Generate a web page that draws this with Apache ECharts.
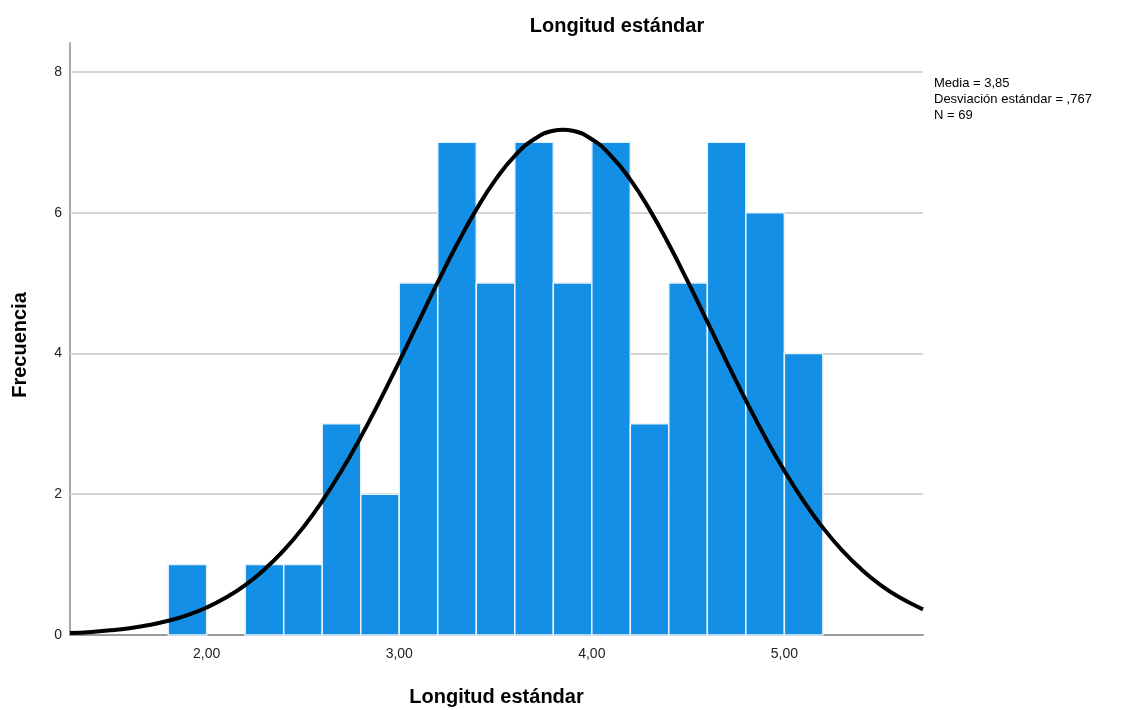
<!DOCTYPE html>
<html><head><meta charset="utf-8">
<script src="https://cdn.jsdelivr.net/npm/echarts@6/dist/echarts.min.js"></script>
<style>html,body{margin:0;padding:0;background:#fff}#c{width:1132px;height:710px}</style>
</head><body><div id="c"></div>
<script>
const binStart = [1.8, 2.0, 2.2, 2.4, 2.6, 2.8, 3.0, 3.2, 3.4, 3.6, 3.8, 4.0, 4.2, 4.4, 4.6, 4.8, 5.0];
const binEnd   = [2.0, 2.2, 2.4, 2.6, 2.8, 3.0, 3.2, 3.4, 3.6, 3.8, 4.0, 4.2, 4.4, 4.6, 4.8, 5.0, 5.2];
const counts   = [1, 0, 1, 1, 3, 2, 5, 7, 5, 7, 5, 7, 3, 5, 7, 6, 4];
const curveX = [1.29,1.4,1.5,1.6,1.7,1.8,1.9,2.0,2.1,2.2,2.3,2.4,2.5,2.6,2.7,2.8,2.9,3.0,3.1,3.2,3.3,3.4,3.5,3.6,3.7,3.8,3.85,3.9,4.0,4.1,4.2,4.3,4.4,4.5,4.6,4.7,4.8,4.9,5.0,5.1,5.2,5.3,5.4,5.5,5.6,5.7,5.72];
const curveY = [0.027,0.044,0.066,0.097,0.141,0.202,0.283,0.391,0.532,0.710,0.932,1.202,1.525,1.902,2.333,2.812,3.334,3.884,4.450,5.012,5.551,6.043,6.468,6.807,7.042,7.163,7.178,7.163,7.042,6.807,6.468,6.043,5.551,5.012,4.450,3.884,3.334,2.812,2.333,1.902,1.525,1.202,0.932,0.710,0.532,0.391,0.365];
const xTicks = [2, 3, 4, 5];
const yTicks = [0, 2, 4, 6, 8];
const titleText = 'Longitud estándar';
const xName = 'Longitud estándar';
const yName = 'Frecuencia';
const statsLines = ['Media = 3,85', 'Desviación estándar = ,767', 'N = 69'];

const bars = binStart.map((s, i) => [s, binEnd[i], counts[i]]).filter(d => d[2] > 0);
const curve = curveX.map((x, i) => [x, curveY[i]]);
const fmt = v => v.toFixed(2).replace('.', ',');
const FONT = 'Liberation Sans, Arial, sans-serif';

const chart = echarts.init(document.getElementById('c'), null, {renderer: 'canvas'});
chart.setOption({
  animation: false,
  backgroundColor: '#ffffff',
  title: {
    text: titleText, left: 612, top: 11, textAlign: 'center',
    textStyle: {fontFamily: FONT, fontSize: 20, fontWeight: 'bold', color: '#000'}
  },
  graphic: [{
    type: 'text', left: 934, top: 75,
    style: {text: statsLines.join('\n'), font: '13px "Liberation Sans", Arial, sans-serif', fill: '#000', lineHeight: 16}
  }, {
    type: 'text', x: 20, y: 345, rotation: Math.PI / 2,
    style: {text: yName, font: 'bold 20px "Liberation Sans", Arial, sans-serif', fill: '#000', align: 'center', verticalAlign: 'middle'}
  }],
  grid: {left: 70, right: 209, top: 43, bottom: 75, containLabel: false, outerBoundsMode: 'none'},
  xAxis: {
    type: 'value', min: 1.29, max: 5.72,
    name: xName, nameLocation: 'middle', nameGap: 52,
    nameTextStyle: {fontFamily: FONT, fontSize: 20, fontWeight: 'bold', color: '#000'},
    axisLine: {show: true, lineStyle: {color: '#9a9a9a', width: 2}},
    axisTick: {show: false, customValues: xTicks},
    axisLabel: {customValues: xTicks, formatter: fmt, margin: 12,
      fontFamily: FONT, fontSize: 14, color: '#222'},
    splitLine: {show: false}
  },
  yAxis: {
    type: 'value', min: 0, max: 8.41,
    axisLine: {show: true, lineStyle: {color: '#a8a8a8', width: 2}},
    axisTick: {show: false, customValues: yTicks},
    axisLabel: {customValues: yTicks, margin: 8,
      fontFamily: FONT, fontSize: 14, color: '#222'},
    splitLine: {show: false}
  },
  series: [
    {
      type: 'line', data: yTicks.filter(v => v > 0).map(v => [1.29, v]), silent: true,
      showSymbol: false, lineStyle: {opacity: 0},
      markLine: {
        silent: true, symbol: 'none', label: {show: false},
        lineStyle: {color: '#d4d4d4', width: 2, type: 'solid'},
        data: yTicks.filter(v => v > 0).map(v => ({yAxis: v}))
      },
      z: 0
    },
    {
      type: 'custom', z: 10,
      data: bars,
      encode: {x: [0, 1], y: 2},
      renderItem: function (params, api) {
        const p0 = api.coord([api.value(0), api.value(2)]);
        const p1 = api.coord([api.value(1), 0]);
        return {
          type: 'rect',
          shape: {x: p0[0], y: p0[1], width: p1[0] - p0[0], height: p1[1] - p0[1]},
          style: {fill: '#1390e6', stroke: '#e6f2fc', lineWidth: 1.5}
        };
      }
    },
    {
      type: 'line', z: 11, data: curve, smooth: true, showSymbol: false,
      lineStyle: {color: '#000', width: 4}
    }
  ]
});
</script></body></html>
